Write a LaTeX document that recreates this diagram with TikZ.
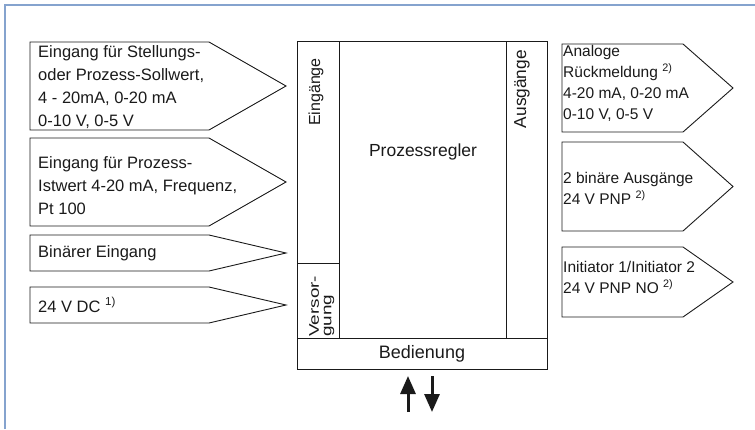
\documentclass[tikz,border=0pt]{standalone}
\usepackage{fontspec}
\usepackage{graphicx}
\setmainfont{Liberation Sans}
\usetikzlibrary{arrows.meta}
\definecolor{framec}{HTML}{85A3CE}
\definecolor{ink}{HTML}{1A1A1A}
\begin{document}
\begin{tikzpicture}[x=1pt,y=-1pt,
  box/.style={draw=ink, line width=0.9pt},
  ltext/.style={anchor=west, inner sep=0pt, align=left, text=ink, font=\fontsize{16.5}{23}\selectfont},
  rtext/.style={anchor=west, inner sep=0pt, align=left, text=ink, font=\fontsize{15.5}{21}\selectfont},
  mtext/.style={inner sep=0pt, text=ink, font=\fontsize{17.5}{21}\selectfont},
  bigarrow/.style={draw=ink, line width=3pt, -{Triangle[length=18pt,width=15pt]}}]
\useasboundingbox (0,0) rectangle (755,429);
% frame
\draw[framec, line width=2pt] (5,429) -- (5,5) -- (755,5);

% left input arrows
\draw[box] (30,42) -- (209,42) -- (286,86) -- (209,130) -- (30,130) -- cycle;
\draw[box] (30,138) -- (209,138) -- (286,182) -- (209,226) -- (30,226) -- cycle;
\draw[box] (30,235) -- (209,235) -- (286,253) -- (209,271) -- (30,271) -- cycle;
\draw[box] (30,287) -- (209,287) -- (286,305) -- (209,323) -- (30,323) -- cycle;

\node[ltext] (in1) at (38,87) {Eingang für Stellungs-\\oder Prozess-Sollwert,\\4 - 20mA, 0-20 mA\\0-10 V, 0-5 V};
\node[ltext] (in2) at (38,186) {Eingang für Prozess-\\Istwert 4-20 mA, Frequenz,\\Pt 100};
\node[ltext] (in3) at (38,253) {Binärer Eingang};
\node[ltext] (in4) at (38,305) {24 V DC \textsuperscript{1)}};

% right output arrows
\draw[box] (562,44) -- (683,44) -- (733,88) -- (683,132) -- (562,132) -- cycle;
\draw[box] (562,142) -- (683,142) -- (733,186.5) -- (683,231) -- (562,231) -- cycle;
\draw[box] (562,247) -- (683,247) -- (733,282) -- (683,317) -- (562,317) -- cycle;

\node[rtext] (out1) at (563,83) {Analoge\\Rückmeldung \textsuperscript{2)}\\4-20 mA, 0-20 mA\\0-10 V, 0-5 V};
\node[rtext] (out2) at (563,188) {2 binäre Ausgänge\\24 V PNP \textsuperscript{2)}};
\node[rtext] (out3) at (563,277) {Initiator 1/Initiator 2\\24 V PNP NO \textsuperscript{2)}};

% main block
\draw[box] (297,41) rectangle (547,369);
\draw[box] (297,338) -- (547,338);
\draw[box] (339,41) -- (339,338);
\draw[box] (506,41) -- (506,338);
\draw[box] (297,263) -- (339,263);

\node[mtext] (pr) at (423,152) {Prozessregler};
\node[inner sep=0pt, text=ink, font=\fontsize{16}{20}\selectfont, rotate=90, anchor=east] (eing) at (316,58) {Eingänge};
\node[inner sep=0pt, text=ink, font=\fontsize{17.3}{20}\selectfont, rotate=90, anchor=east] (ausg) at (522,50) {Ausgänge};
\node[inner sep=0pt, text=ink, rotate=90, anchor=north west, align=left, font=\fontsize{14}{12.5}\selectfont] (vers) at (309,337) {\scalebox{1.35}[1]{Versor-}\\\scalebox{1.35}[1]{gung}};
\node[inner sep=0pt, text=ink, font=\fontsize{18}{21}\selectfont] (bed) at (422,354) {Bedienung};

% operation arrows
\coordinate (upS) at (408,412);
\coordinate (upE) at (408,376);
\coordinate (dnS) at (432,376);
\coordinate (dnE) at (432,412);
\draw[bigarrow] (upS) -- (upE);
\draw[bigarrow] (dnS) -- (dnE);
\end{tikzpicture}
\end{document}
